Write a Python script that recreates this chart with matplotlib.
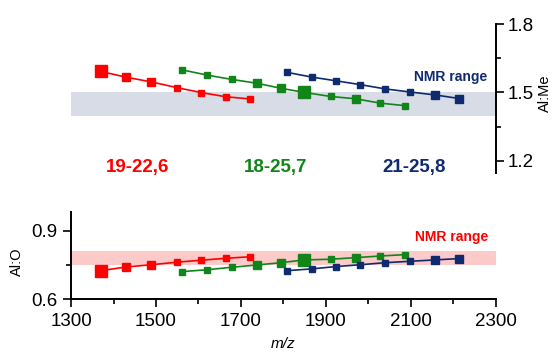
import matplotlib
matplotlib.use('Agg')
import matplotlib.pyplot as plt

plt.rcParams['font.family'] = ['Liberation Sans', 'DejaVu Sans']

# m/z of each cluster series
mz_red = [1370, 1429, 1489, 1549, 1607, 1664, 1722]
mz_green = [1561, 1620, 1678, 1738, 1794, 1849, 1911, 1970, 2027, 2085]
mz_blue = [1808, 1867, 1923, 1981, 2040, 2097, 2156, 2214]

# Al:Me ratios (top panel)
alme_red = [1.592, 1.567, 1.546, 1.521, 1.499, 1.481, 1.471]
alme_green = [1.599, 1.576, 1.557, 1.540, 1.518, 1.500, 1.482, 1.472, 1.453, 1.442]
alme_blue = [1.588, 1.567, 1.551, 1.534, 1.515, 1.502, 1.489, 1.473]

# Al:O ratios (bottom panel)
alo_red = [0.725, 0.741, 0.751, 0.762, 0.771, 0.779, 0.786]
alo_green = [0.721, 0.729, 0.740, 0.750, 0.760, 0.772, 0.775, 0.782, 0.789, 0.795]
alo_blue = [0.725, 0.733, 0.743, 0.751, 0.760, 0.766, 0.772, 0.778]

series_labels = ['19-22,6', '18-25,7', '21-25,8']
nmr_alme = (1.395, 1.5)
nmr_alo = (0.75, 0.81)

RED, GREEN, NAVY = '#ff0000', '#12851a', '#0f2a6e'

# marker size per point (intensity classes)
L, M, S = 8, 6, 3.8
ms_red = [L, M, M, S, S, S, S]
ms_green = [S, S, S, M, M, L, S, M, S, S]
ms_blue = [S, S, S, S, S, S, M, M]

fig = plt.figure(figsize=(5.53, 3.53), dpi=100)
ax1 = fig.add_axes([0.1284, 0.509, 0.7685, 0.423])
ax2 = fig.add_axes([0.1284, 0.1521, 0.7685, 0.2465])


def draw(ax, xs, ys, sizes, color):
    ax.plot(xs, ys, '-', color=color, lw=1.2, zorder=3)
    for x, y, s in zip(xs, ys, sizes):
        ax.plot(x, y, 's', color=color, ms=s, mec=color, zorder=4)


# top panel: Al:Me
ax1.fill_between([1300, 2300], nmr_alme[0], nmr_alme[1], color='#d7dce6', lw=0, zorder=1)
draw(ax1, mz_red, alme_red, ms_red, RED)
draw(ax1, mz_green, alme_green, ms_green, GREEN)
draw(ax1, mz_blue, alme_blue, ms_blue, NAVY)
ax1.set_xlim(1300, 2300)
ax1.set_ylim(1.145, 1.8)
for s in ['left', 'top', 'bottom']:
    ax1.spines[s].set_visible(False)
ax1.spines['right'].set_linewidth(1.4)
ax1.set_xticks([])
ax1.yaxis.tick_right()
ax1.set_yticks([1.2, 1.5, 1.8])
ax1.set_yticks([1.35, 1.65], minor=True)
ax1.set_yticklabels(['1.2', '1.5', '1.8'])
ax1.tick_params(axis='y', which='major', length=5.5, width=1.2, labelsize=13.5, pad=3)
ax1.tick_params(axis='y', which='minor', length=3.5, width=1.2)
ax1.patch.set_visible(False)
ax1.text(2279, 1.567, 'NMR range', color=NAVY, fontsize=10, fontweight='bold',
         ha='right', va='center')
for x, lab, c in zip([1456, 1781, 2108], series_labels, [RED, GREEN, NAVY]):
    ax1.text(x, 1.171, lab, color=c, fontsize=13.5, fontweight='bold',
             ha='center', va='center')
fig.text(545 / 553, 1 - 93 / 353, 'Al:Me', rotation=90, fontsize=10.5,
         ha='center', va='center')

# bottom panel: Al:O
ax2.fill_between([1300, 2300], nmr_alo[0], nmr_alo[1], color='#fdcaca', lw=0, zorder=1)
draw(ax2, mz_red, alo_red, ms_red, RED)
draw(ax2, mz_green, alo_green, ms_green, GREEN)
draw(ax2, mz_blue, alo_blue, ms_blue, NAVY)
ax2.set_xlim(1300, 2300)
ax2.set_ylim(0.6, 0.98)
ax2.spines['top'].set_visible(False)
ax2.spines['right'].set_visible(False)
ax2.spines['left'].set_linewidth(1.4)
ax2.spines['bottom'].set_linewidth(1.4)
ax2.set_xticks(range(1300, 2301, 200))
ax2.set_xticks(range(1400, 2300, 200), minor=True)
ax2.set_yticks([0.6, 0.9])
ax2.set_yticks([0.75], minor=True)
ax2.set_yticklabels(['0.6', '0.9'])
ax2.tick_params(which='major', length=6, width=1.2, labelsize=13.5, pad=3.5)
ax2.tick_params(which='minor', length=3.5, width=1.2)
ax2.patch.set_visible(False)
ax2.text(2281, 0.874, 'NMR range', color=RED, fontsize=10, fontweight='bold',
         ha='right', va='center')
fig.text(17 / 553, 1 - 262 / 353, 'Al:O', rotation=90, fontsize=10.5,
         ha='center', va='center')
fig.text(283 / 553, 1 - 344 / 353, 'm/z', style='italic', fontsize=11,
         ha='center', va='center')

fig.savefig('out.png', dpi=100)
